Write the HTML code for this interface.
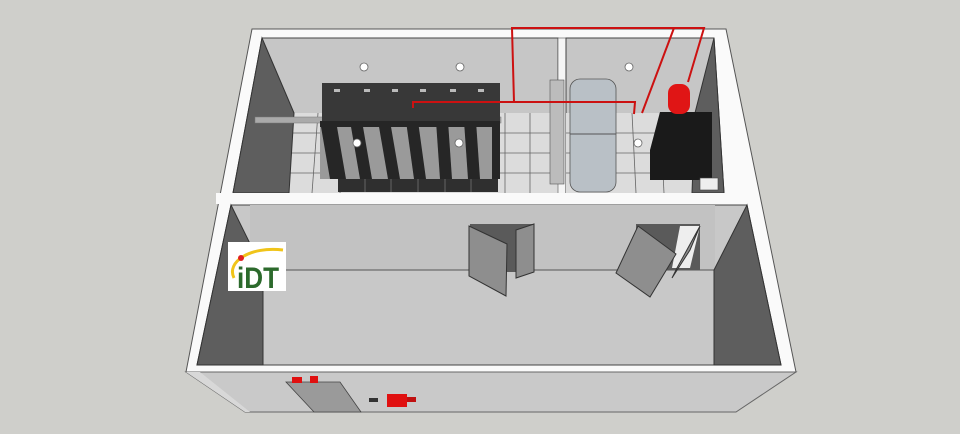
<!DOCTYPE html>
<html><head><meta charset="utf-8"><style>
html,body{margin:0;padding:0;background:#cfcfcb;}
svg{display:block}
</style></head><body>
<svg width="960" height="434" viewBox="0 0 960 434" xmlns="http://www.w3.org/2000/svg" font-family="Liberation Sans, sans-serif">
<rect width="960" height="434" fill="#cfcfcb"/>
<polygon points="252,29 726,29 796,372 186,372" fill="#fafafa" stroke="#555" stroke-width="1"/>
<polygon points="186,372 796,372 736,412 245,412" fill="#c9c9c9" stroke="#666" stroke-width="1"/>
<polygon points="186,372 245,412 250,412 200,372" fill="#d8d8d8"/>
<polygon points="262,38 558,38 558,193 233,193" fill="#c6c6c6" stroke="#444" stroke-width="1"/>
<polygon points="293,113 558,113 558,193 289,193" fill="#dcdcdc"/>
<g stroke="#666" stroke-width="0.8">
<line x1="290" y1="133" x2="558" y2="133"/><line x1="290" y1="153" x2="558" y2="153"/><line x1="290" y1="173" x2="558" y2="173"/>
<line x1="318" y1="113" x2="312" y2="193"/><line x1="346" y1="113" x2="340" y2="193"/><line x1="505" y1="113" x2="505" y2="193"/><line x1="530" y1="113" x2="530" y2="193"/>
</g>
<polygon points="262,38 294,113 289,193 233,193" fill="#5e5e5e" stroke="#333" stroke-width="1"/>
<rect x="255" y="117" width="246" height="6" fill="#aaa" stroke="#777" stroke-width="0.5"/>
<rect x="322" y="83" width="178" height="38" fill="#383838"/>
<g fill="#bbb">
<rect x="334" y="89" width="6" height="3"/><rect x="364" y="89" width="6" height="3"/><rect x="392" y="89" width="6" height="3"/><rect x="420" y="89" width="6" height="3"/><rect x="450" y="89" width="6" height="3"/><rect x="478" y="89" width="6" height="3"/>
</g>
<rect x="320" y="121" width="180" height="58" fill="#9a9a9a"/>
<g fill="#262626">
<polygon points="320,121 336,121 346,179 330,179"/>
<polygon points="350,121 362,121 372,179 360,179"/>
<polygon points="378,121 390,121 400,179 388,179"/>
<polygon points="406,121 418,121 426,179 414,179"/>
<polygon points="436,121 448,121 452,179 440,179"/>
<polygon points="464,121 476,121 480,179 468,179"/>
<rect x="492" y="121" width="8" height="58"/>
<rect x="320" y="121" width="180" height="6"/>
</g>
<rect x="338" y="179" width="160" height="13" fill="#2f2f2f"/>
<g stroke="#888" stroke-width="0.6"><line x1="365" y1="179" x2="365" y2="192"/><line x1="391" y1="179" x2="391" y2="192"/><line x1="418" y1="179" x2="418" y2="192"/><line x1="445" y1="179" x2="445" y2="192"/><line x1="471" y1="179" x2="471" y2="192"/></g>
<rect x="558" y="38" width="8" height="156" fill="#f5f5f5" stroke="#555" stroke-width="0.6"/>
<rect x="550" y="80" width="14" height="104" fill="#bcbcbc" stroke="#555" stroke-width="0.6"/>
<polygon points="566,38 714,38 724,193 566,193" fill="#c6c6c6" stroke="#444" stroke-width="1"/>
<rect x="566" y="113" width="130" height="80" fill="#dcdcdc"/>
<g stroke="#666" stroke-width="0.8"><line x1="566" y1="133" x2="696" y2="133"/><line x1="566" y1="153" x2="696" y2="153"/><line x1="566" y1="173" x2="696" y2="173"/><line x1="632" y1="113" x2="636" y2="193"/><line x1="660" y1="113" x2="664" y2="193"/></g>
<polygon points="714,38 724,193 692,193 695,113" fill="#5e5e5e" stroke="#333" stroke-width="1"/>
<rect x="570" y="79" width="46" height="113" rx="10" fill="#b9c0c6" stroke="#555" stroke-width="0.8"/>
<line x1="570" y1="134" x2="616" y2="134" stroke="#555"/>
<polygon points="660,112 712,112 712,178 698,180 650,180 650,150" fill="#1a1a1a"/>
<rect x="700" y="178" width="18" height="12" fill="#eee" stroke="#444" stroke-width="0.6"/>
<rect x="668" y="84" width="22" height="30" rx="9" fill="#e01515"/>
<g fill="#fff" stroke="#666" stroke-width="0.8">
<circle cx="364" cy="67" r="4"/><circle cx="460" cy="67" r="4"/><circle cx="629" cy="67" r="4"/>
<circle cx="357" cy="143" r="4"/><circle cx="459" cy="143" r="4"/><circle cx="638" cy="143" r="4"/>
</g>
<g stroke="#cc1111" stroke-width="2" fill="none">
<polyline points="514,102 512,28 704,28 688,82"/>
<line x1="674" y1="28" x2="642" y2="113"/>
<polyline points="413,108 413,102 635,102 634,114"/>
</g>
<rect x="216" y="193" width="532" height="11" fill="#fafafa"/>
<polygon points="231,205 747,205 781,365 197,365" fill="#c8c8c8" stroke="#444" stroke-width="1"/>
<rect x="250" y="205" width="465" height="65" fill="#c2c2c2"/>
<line x1="262" y1="270" x2="714" y2="270" stroke="#555" stroke-width="1"/>
<polygon points="231,205 263,270 263,365 197,365" fill="#5e5e5e" stroke="#333" stroke-width="1"/>
<polygon points="747,205 714,270 714,365 781,365" fill="#5e5e5e" stroke="#333" stroke-width="1"/>
<rect x="470" y="224" width="64" height="48" fill="#5a5a5a"/>
<polygon points="469,226 507,244 506,296 469,276" fill="#8e8e8e" stroke="#333" stroke-width="1"/>
<polygon points="516,230 534,224 534,272 516,278" fill="#8e8e8e" stroke="#333" stroke-width="1"/>
<rect x="636" y="224" width="64" height="46" fill="#5a5a5a"/>
<polygon points="680,226 700,226 690,268 672,268" fill="#eee"/>
<polygon points="638,226 676,254 650,297 616,273" fill="#8e8e8e" stroke="#333" stroke-width="1"/>
<polygon points="700,226 677,268 672,278 690,250" fill="#8e8e8e" stroke="#333" stroke-width="1"/>
<rect x="228" y="242" width="58" height="49" fill="#fff"/>
<path d="M234,278 C226,262 250,246 283,250" stroke="#f0c419" stroke-width="3" fill="none"/>
<circle cx="241" cy="258" r="3" fill="#e02020"/>
<text x="237" y="288" font-size="30" font-weight="bold" fill="#2c6a2c" textLength="42" lengthAdjust="spacingAndGlyphs">iDT</text>
<polygon points="286,382 340,382 361,412 314,412" fill="#9a9a9a" stroke="#444" stroke-width="0.8"/>
<rect x="292" y="377" width="10" height="6" fill="#e01010"/>
<rect x="310" y="376" width="8" height="7" fill="#e01010"/>
<rect x="369" y="398" width="9" height="4" fill="#333"/>
<rect x="387" y="394" width="20" height="13" fill="#e01010"/>
<rect x="407" y="397" width="9" height="5" fill="#c01010"/>
</svg>
</body></html>
